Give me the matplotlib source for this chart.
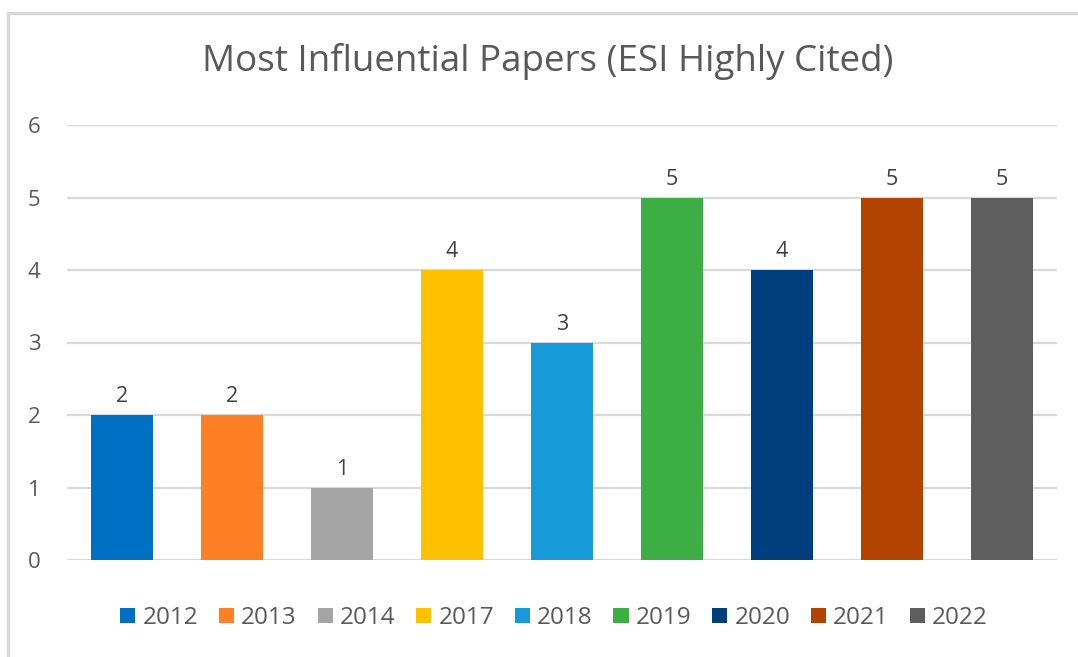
import matplotlib
matplotlib.use("Agg")
import matplotlib.pyplot as plt
from matplotlib.patches import Rectangle

years = ["2012", "2013", "2014", "2017", "2018", "2019", "2020", "2021", "2022"]
counts = [2, 2, 1, 4, 3, 5, 4, 5, 5]
colors = ["#0070C4", "#FF7F24", "#A5A5A5", "#FFC000", "#169BD8",
          "#3DAE44", "#003F7D", "#B34400", "#5E5E5E"]
title = "Most Influential Papers (ESI Highly Cited)"
yticks = [0, 1, 2, 3, 4, 5, 6]

plt.rcParams['font.family'] = ['Open Sans', 'DejaVu Sans']
txt = "#595959"

W, H = 1078, 657
fig = plt.figure(figsize=(W / 100, H / 100), dpi=100)
fig.patch.set_facecolor("white")

# chart border
fig.add_artist(Rectangle((8 / W, -0.05), 1.2, (H - 13) / H + 0.05,
                         transform=fig.transFigure, fill=False,
                         edgecolor="#D9D9D9", linewidth=2.5))

ax = fig.add_axes([67 / W, (H - 560) / H, (1057 - 67) / W, (560 - 125) / H])
for i, (yr, c, v) in enumerate(zip(years, colors, counts)):
    ax.bar(i, v, width=0.565, color=c, label=yr, zorder=3)
    ax.text(i, v + 0.11, str(v), ha="center", va="bottom",
            fontsize=15.5, color="#404040")

ax.set_xlim(-0.5, len(years) - 0.5)
ax.set_ylim(0, 6)
ax.set_yticks(yticks)
ax.set_yticklabels([str(t) for t in yticks], fontsize=16, color=txt)
ax.set_xticks([])
ax.tick_params(axis="y", length=0, pad=19)
for s in ax.spines.values():
    s.set_visible(False)
ax.grid(axis="y", color="#D9D9D9", linewidth=1.6, zorder=0)
ax.set_axisbelow(True)

fig.text(548 / W, (H - 62) / H, title, ha="center", va="center",
         fontsize=26.5, color=txt)

leg = fig.legend(loc="center", bbox_to_anchor=(554 / W, (H - 618) / H),
                 ncol=len(years), frameon=False, fontsize=17.5,
                 handlelength=0.62, handleheight=0.62, handletextpad=0.3,
                 columnspacing=0.85, labelcolor=txt)

fig.savefig("out.png", dpi=100, facecolor="white")
